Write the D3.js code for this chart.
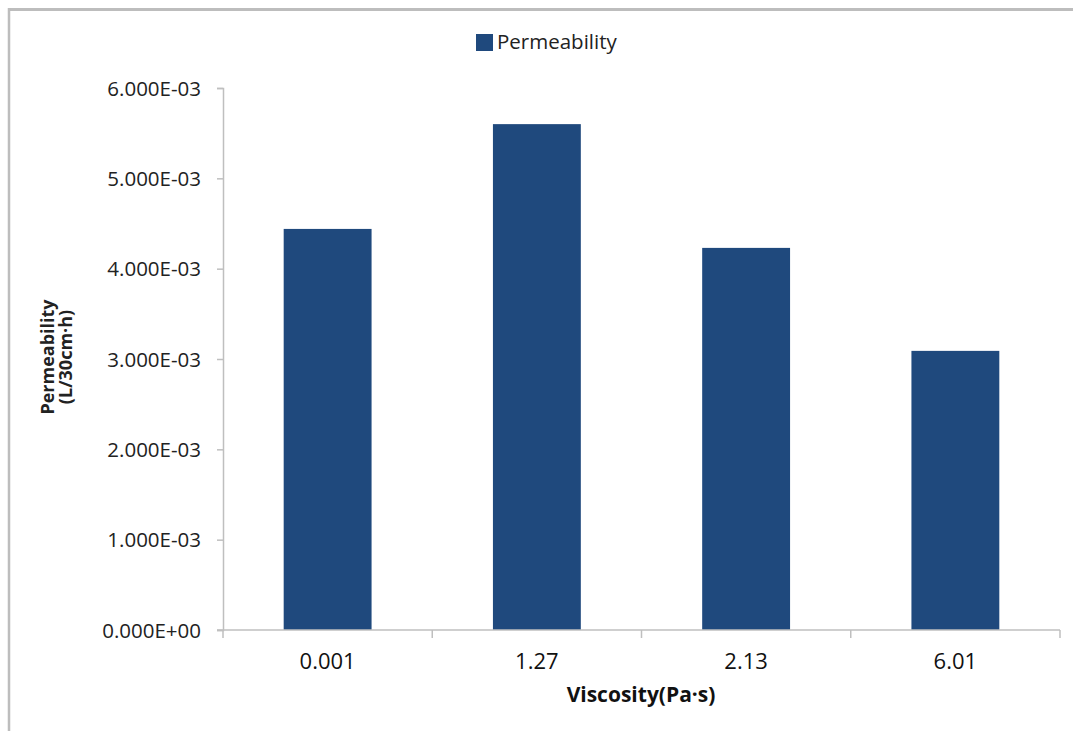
<!DOCTYPE html>
<html>
<head>
<meta charset="utf-8">
<script src="https://cdn.jsdelivr.net/npm/d3@7"></script>
<style>
  html, body { margin: 0; padding: 0; background: #fff; }
  svg { display: block; }
</style>
</head>
<body>
<div id="chart"></div>
<script>
const categories = ["0.001", "1.27", "2.13", "6.01"];
const permeability = [0.00444, 0.00560, 0.00423, 0.00309];
const yTicks = [0, 0.001, 0.002, 0.003, 0.004, 0.005, 0.006];
const seriesName = "Permeability";

const W = 1073, H = 731;
const margin = { top: 88, right: 13, bottom: 101, left: 223 };
const BAR = "#1F497D";
const AXIS = "#BFBFBF";

const svg = d3.select("#chart").append("svg").attr("width", W).attr("height", H);

// outer frame (top and left only visible)
svg.append("line").attr("x1", 8).attr("x2", W).attr("y1", 9.5).attr("y2", 9.5)
  .attr("stroke", "#BDBDBD").attr("stroke-width", 3);
svg.append("line").attr("x1", 9).attr("x2", 9).attr("y1", 8).attr("y2", H)
  .attr("stroke", "#BDBDBD").attr("stroke-width", 2.5);

const x = d3.scaleBand().domain(categories)
  .range([margin.left, W - margin.right]).paddingInner(0.58).paddingOuter(0.29);
const y = d3.scaleLinear().domain([0, 0.006]).range([H - margin.bottom, margin.top]);

const fmt = v => {
  if (v === 0) return "0.000E+00";
  const e = Math.floor(Math.log10(v) + 1e-9);
  const m = v / Math.pow(10, e);
  return m.toFixed(3) + "E" + (e < 0 ? "-" : "+") + String(Math.abs(e)).padStart(2, "0");
};

// y axis
const yAxis = svg.append("g").attr("transform", `translate(${margin.left},0)`)
  .call(d3.axisLeft(y).tickValues(yTicks).tickFormat(fmt).tickSize(6).tickPadding(16));
yAxis.select(".domain").attr("stroke", AXIS).attr("stroke-width", 1.5);
yAxis.selectAll(".tick line").attr("stroke", AXIS).attr("stroke-width", 1.5);
yAxis.selectAll(".tick text").attr("fill", "#222").style("font-family", "'Open Sans', sans-serif")
  .style("font-size", "20.5px").attr("dy", "0.35em");

// bars
svg.selectAll("rect.bar").data(permeability).join("rect").attr("class", "bar")
  .attr("x", (d, i) => x(categories[i])).attr("width", x.bandwidth())
  .attr("y", d => y(d)).attr("height", d => y(0) - y(d)).attr("fill", BAR);

// x axis
const xBoundaries = d3.range(categories.length + 1).map(i => margin.left + i * (W - margin.right - margin.left) / categories.length);
const xg = svg.append("g");
xg.append("line").attr("x1", margin.left - 6).attr("x2", W - margin.right)
  .attr("y1", y(0)).attr("y2", y(0)).attr("stroke", AXIS).attr("stroke-width", 1.5);
xg.selectAll("line.xt").data(xBoundaries).join("line").attr("class", "xt")
  .attr("x1", d => d).attr("x2", d => d).attr("y1", y(0)).attr("y2", y(0) + 8)
  .attr("stroke", AXIS).attr("stroke-width", 1.5);
xg.selectAll("text").data(categories).join("text")
  .attr("x", d => x(d) + x.bandwidth() / 2).attr("y", y(0) + 39)
  .attr("text-anchor", "middle").attr("fill", "#111")
  .style("font-family", "'Open Sans', sans-serif").style("font-size", "22px").text(d => d);

// x title
svg.append("text").attr("x", 641).attr("y", 702).attr("text-anchor", "middle")
  .style("font-family", "'Open Sans', sans-serif").style("font-size", "21px").style("font-weight", "bold")
  .attr("fill", "#111").text("Viscosity(Pa·s)");

// y title
const yt = svg.append("text").attr("transform", "translate(54,357) rotate(-90)")
  .attr("text-anchor", "middle").style("font-family", "'Open Sans', sans-serif")
  .style("font-size", "18px").style("font-weight", "bold").attr("fill", "#222");
yt.append("tspan").attr("x", 0).attr("dy", 0).text("Permeability");
yt.append("tspan").attr("x", 0).attr("dy", 18).text("(L/30cm·h)");

// legend
const lg = svg.append("g").attr("transform", "translate(476,34)");
lg.append("rect").attr("width", 17).attr("height", 17).attr("fill", BAR);
lg.append("text").attr("x", 21).attr("y", 15).style("font-family", "'Open Sans', sans-serif")
  .style("font-size", "20.5px").attr("fill", "#222").text(seriesName);
</script>
</body>
</html>
